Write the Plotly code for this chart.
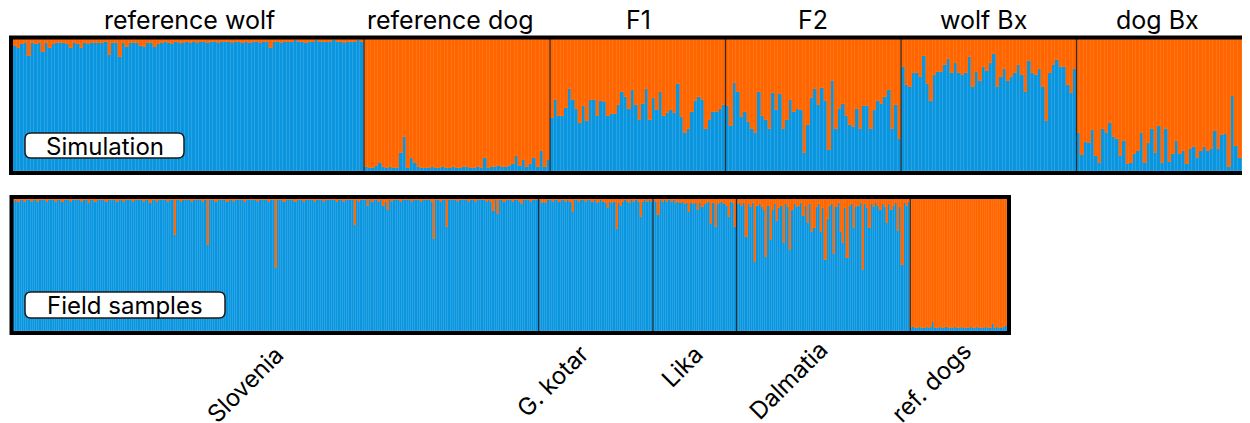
import plotly.graph_objects as go

PAGE_W = 1250
OFF = 8  # default body margin of the page
W, H = 1242, 415
BLUE = "#0996DE"
ORANGE = "#FF6600"
FONT = "Inter"

# wolf ancestry (%) per individual, simulated groups
REF_WOLF = [95, 93, 96, 97, 87, 97, 96, 97, 90, 97, 93, 96, 97, 97, 97, 96, 93, 97, 96, 93,
            97, 96, 97, 97, 97, 97, 98, 88, 97, 97, 86, 97, 94, 97, 97, 97, 95, 94, 97, 97,
            94, 96, 97, 98, 97, 96, 98, 97, 97, 98, 97, 98, 97, 98, 98, 97, 98, 98, 97, 98,
            98, 98, 97, 98, 98, 97, 98, 97, 98, 98, 97, 98, 98, 93, 98, 98, 97, 98, 98, 98,
            99, 98, 98, 97, 98, 98, 99, 98, 98, 98, 98, 99, 98, 98, 97, 98, 98, 98, 99, 98]
REF_DOG = [3, 2, 2, 4, 6, 3, 2, 3, 2, 2, 14, 26, 2, 10, 6, 3, 2, 2, 2, 3,
           2, 2, 3, 2, 2, 3, 2, 2, 3, 3, 2, 2, 3, 2, 10, 2, 3, 3, 4, 3,
           3, 4, 5, 11, 4, 8, 3, 5, 10, 3, 15, 3, 8]
F1 = [40, 54, 42, 42, 48, 62, 54, 47, 36, 49, 38, 54, 54, 42, 53, 52, 42, 43, 43, 50,
      60, 56, 47, 61, 50, 39, 51, 62, 39, 55, 46, 60, 42, 44, 46, 44, 66, 41, 29, 32,
      45, 53, 56, 54, 32, 39, 45, 45, 47, 50]
F2 = [49, 34, 67, 60, 41, 45, 37, 32, 29, 60, 42, 39, 32, 59, 46, 58, 32, 39, 54, 45,
      47, 46, 14, 35, 55, 62, 50, 63, 53, 16, 68, 32, 47, 51, 42, 35, 33, 47, 32, 49,
      49, 32, 46, 53, 51, 56, 61, 32, 50, 24]
WOLF_BX = [79, 65, 64, 74, 74, 71, 87, 66, 53, 73, 75, 75, 80, 85, 74, 82, 74, 73, 74, 86,
           64, 75, 68, 79, 76, 82, 89, 64, 71, 77, 68, 71, 74, 80, 73, 60, 83, 74, 73, 77,
           64, 38, 74, 80, 84, 79, 79, 65, 59, 77]
DOG_BX = [29, 12, 22, 21, 31, 11, 6, 32, 29, 36, 26, 24, 11, 23, 5, 6, 13, 15, 29, 6,
          21, 32, 14, 34, 6, 32, 7, 13, 23, 13, 15, 5, 17, 18, 10, 15, 18, 15, 17, 30,
          17, 27, 28, 3, 57, 19, 10, 13, 3, 16]
SIM_GROUPS = ["reference wolf", "reference dog", "F1", "F2", "wolf Bx", "dog Bx"]
SIM_DATA = [REF_WOLF, REF_DOG, F1, F2, WOLF_BX, DOG_BX]

# wolf ancestry (%) per individual, field samples
SLOVENIA = [98, 99, 98, 99, 99, 98, 99, 99, 98, 99, 99, 98, 99, 99, 99, 98, 99, 99, 99, 98,
            99, 99, 98, 99, 99, 99, 98, 99, 99, 99, 99, 98, 99, 99, 97, 99, 99, 98, 99, 99,
            99, 99, 98, 99, 99, 99, 99, 98, 99, 99, 98, 99, 99, 99, 98, 99, 99, 99, 99, 98,
            99, 99, 97, 99, 99, 98, 99, 99, 99, 99, 98, 99, 99, 73, 99, 99, 98, 99, 99, 99,
            99, 98, 99, 99, 99, 99, 98, 99, 65, 99, 99, 99, 98, 99, 99, 99, 99, 98, 99, 99,
            98, 99, 99, 99, 99, 98, 99, 99, 99, 99, 99, 98, 99, 99, 99, 99, 98, 99, 99, 48,
            99, 99, 99, 98, 99, 99, 99, 99, 98, 99, 99, 99, 98, 99, 99, 99, 99, 98, 99, 99,
            99, 98, 99, 99, 99, 99, 99, 98, 99, 99, 98, 99, 99, 99, 99, 80, 99, 98, 99, 99,
            99, 95, 99, 98, 99, 99, 98, 99, 95, 98, 92, 99, 98, 99, 99, 99, 98, 99, 99, 99,
            99, 98, 99, 99, 99, 98, 99, 99, 99, 99, 98, 70, 99, 99, 98, 99, 99, 79, 99, 99,
            99, 99, 98, 99, 99, 99, 99, 98, 99, 99, 98, 99, 99, 99, 99, 98, 99, 98, 91, 99,
            89, 99, 99, 98, 99, 99, 99, 98, 99, 99, 98, 96, 99, 99, 99, 98, 99, 99, 99]
G_KOTAR = [99, 97, 98, 97, 99, 99, 98, 99, 99, 98, 99, 99, 98, 99, 98, 90, 99, 99, 98, 99,
           99, 98, 99, 99, 98, 99, 97, 98, 99, 98, 97, 93, 98, 97, 98, 77, 97, 95, 98, 99,
           98, 97, 99, 98, 99, 98, 86, 98, 99, 98, 99, 98]
LIKA = [99, 98, 88, 99, 98, 99, 98, 99, 98, 99, 97, 98, 97, 98, 96, 97, 90, 97, 96, 97,
        92, 97, 94, 96, 97, 98, 81, 97, 79, 96, 97, 98, 96, 95, 86, 98, 97, 79]
DALMATIA = [96, 97, 95, 97, 71, 96, 94, 97, 52, 95, 96, 94, 92, 56, 95, 69, 92, 96, 83, 93,
            95, 67, 96, 94, 61, 92, 96, 94, 95, 97, 87, 95, 82, 96, 75, 78, 94, 96, 75, 93,
            54, 85, 95, 96, 58, 94, 97, 75, 67, 93, 55, 95, 96, 78, 94, 95, 97, 46, 96, 93,
            78, 96, 94, 97, 95, 92, 96, 94, 82, 96, 92, 95, 97, 76, 94, 50, 97, 95, 98]
REF_DOGS = [2, 3, 2, 2, 3, 2, 2, 3, 2, 3, 7, 2, 2, 3, 2, 2, 3, 2, 2, 2,
            3, 2, 2, 3, 2, 2, 2, 3, 2, 2, 3, 2, 2, 2, 3, 2, 2, 5, 2, 3,
            2, 2, 3, 4]
FIELD_GROUPS = ["Slovenia", "G. kotar", "Lika", "Dalmatia", "ref. dogs"]
FIELD_DATA = [SLOVENIA, G_KOTAR, LIKA, DALMATIA, REF_DOGS]


# page pixel -> paper fraction
def px(x):
    return (x - OFF) / W


def py(y):
    return 1 - (y - OFF) / H


def flatten(groups):
    vals, bounds, n = [], [], 0
    for g in groups:
        vals += g
        n += len(g)
        bounds.append(n)
    return vals, bounds


fig = go.Figure()
sim_vals, sim_bounds = flatten(SIM_DATA)
field_vals, field_bounds = flatten(FIELD_DATA)

for vals, xa, ya in [(sim_vals, "x", "y"), (field_vals, "x2", "y2")]:
    idx = list(range(len(vals)))
    wolf = [v / 100 for v in vals]
    dog = [1 - w for w in wolf]
    fig.add_trace(go.Bar(x=idx, y=wolf, marker_color=BLUE, width=1,
                         marker_line=dict(color="#3DAAE6", width=0.4),
                         xaxis=xa, yaxis=ya, showlegend=False))
    fig.add_trace(go.Bar(x=idx, y=dog, marker_color=ORANGE, width=1,
                         marker_line=dict(color="#FF7A22", width=0.4),
                         xaxis=xa, yaxis=ya, showlegend=False))

bar_px = 3.51
top_span = (PAGE_W - 13) / bar_px
n_field = len(field_vals)

ax = dict(showticklabels=False, showgrid=False, zeroline=False, ticks="")
fig.update_layout(
    width=W, height=H, barmode="stack", bargap=0,
    paper_bgcolor="white", plot_bgcolor="white",
    margin=dict(l=0, r=0, t=0, b=0),
    xaxis=dict(domain=[px(13), 1], range=[-0.5, -0.5 + top_span], **ax),
    yaxis=dict(domain=[py(171), py(39)], range=[0, 1], **ax),
    xaxis2=dict(domain=[px(13), px(1007)], range=[-0.5, n_field - 0.5], **ax),
    yaxis2=dict(domain=[py(331), py(199)], range=[0, 1], **ax),
)

# group separators
for b in sim_bounds[:-1]:
    fig.add_shape(type="line", xref="x", yref="y domain", x0=b - 0.5, x1=b - 0.5,
                  y0=0, y1=1, line=dict(color="#2a2a2a", width=1.2))
for b in field_bounds[:-1]:
    fig.add_shape(type="line", xref="x2", yref="y2 domain", x0=b - 0.5, x1=b - 0.5,
                  y0=0, y1=1, line=dict(color="#2a2a2a", width=1.2))

# frames
fig.add_shape(type="rect", xref="paper", yref="paper", x0=px(11), x1=px(1264),
              y0=py(173), y1=py(37.5), line=dict(color="black", width=4))
fig.add_shape(type="rect", xref="paper", yref="paper", x0=px(11.5), x1=px(1009),
              y0=py(333), y1=py(197), line=dict(color="black", width=4))


def rounded_box(x0, y0, x1, y1, r=6):
    pts = [("M", x0 + r, y0), ("L", x1 - r, y0), ("Q", x1, y0, x1, y0 + r),
           ("L", x1, y1 - r), ("Q", x1, y1, x1 - r, y1), ("L", x0 + r, y1),
           ("Q", x0, y1, x0, y1 - r), ("L", x0, y0 + r), ("Q", x0, y0, x0 + r, y0)]
    path = ""
    for p in pts:
        cmd, coords = p[0], p[1:]
        xy = [f"{px(coords[i]):.5f},{py(coords[i + 1]):.5f}" for i in range(0, len(coords), 2)]
        path += cmd + " ".join(xy) + " "
    return path + "Z"


for (x0, y0, x1, y1), label in [((25, 133, 184, 158), "Simulation"),
                                 ((25, 292, 225, 318), "Field samples")]:
    fig.add_shape(type="path", xref="paper", yref="paper", path=rounded_box(x0, y0, x1, y1),
                  fillcolor="white", line=dict(color="#1a1a1a", width=1.5))
    fig.add_annotation(x=px((x0 + x1) / 2), y=py((y0 + y1) / 2 + 0.5), xref="paper", yref="paper",
                       text=label, showarrow=False, xanchor="center", yanchor="middle",
                       font=dict(family=FONT, size=24, color="black"))

# group titles on top
top_x = [189, 451, 638, 813, 983, 1157]
for name, x in zip(SIM_GROUPS, top_x):
    fig.add_annotation(x=px(x), y=py(20), xref="paper", yref="paper", text=name,
                       showarrow=False, xanchor="center", yanchor="middle",
                       font=dict(family=FONT, size=25, color="black"))

# rotated field labels
bottom_xy = [(245, 384), (552, 381), (682, 366), (788, 380), (931, 382)]
for name, (x, y) in zip(FIELD_GROUPS, bottom_xy):
    fig.add_annotation(x=px(x), y=py(y), xref="paper", yref="paper", text=name,
                       showarrow=False, textangle=-45, xanchor="center", yanchor="middle",
                       font=dict(family=FONT, size=24, color="black"))

fig.write_html("out.html", config={"displayModeBar": False})
